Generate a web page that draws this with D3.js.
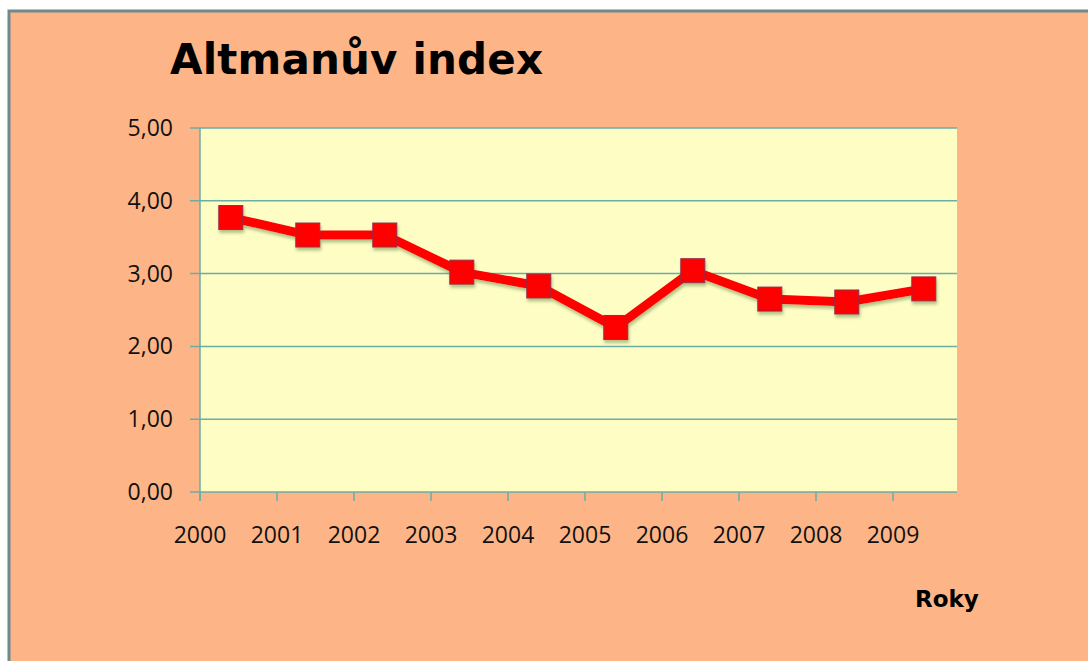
<!DOCTYPE html>
<html lang="cs">
<head>
  <meta charset="UTF-8">
  <title>Altmanův index</title>
  <style>
    html, body { margin: 0; padding: 0; background: #ffffff; }
    svg { display: block; }
  </style>
</head>
<body>
  <svg id="svg" width="1088" height="661"></svg>
  <script src="https://d3js.org/d3.v7.min.js"></script>
  <script>
    // data
    const years = ['2000', '2001', '2002', '2003', '2004', '2005', '2006', '2007', '2008', '2009']
    const values = [3.77, 3.53, 3.53, 3.02, 2.83, 2.26, 3.04, 2.65, 2.61, 2.79]
    const yTicks = [0, 1, 2, 3, 4, 5]

    const width = 1088
    const height = 661
    const plot = { left: 200, top: 128, right: 957, bottom: 492 }

    const svg = d3.select('#svg')

    // outer chart frame
    svg.append('rect')
      .attr('x', 9).attr('y', 11)
      .attr('width', width + 20).attr('height', height + 20)
      .attr('fill', '#fdb587')
      .attr('stroke', '#6f8a8c')
      .attr('stroke-width', 3)

    // x: category index -> pixel, step of ~77px, plot area ends before the 10th step
    const x = d3.scaleLinear().domain([0, 10]).range([200, 970])
    const y = d3.scaleLinear().domain([0, 5]).range([plot.bottom, plot.top])

    // plot area
    svg.append('rect')
      .attr('x', plot.left).attr('y', plot.top)
      .attr('width', plot.right - plot.left).attr('height', plot.bottom - plot.top)
      .attr('fill', '#fdfdc4')

    // horizontal grid + small ticks to the left
    svg.append('g')
      .selectAll('line')
      .data(yTicks)
      .enter()
      .append('line')
      .attr('x1', plot.left - 10)
      .attr('x2', plot.right)
      .attr('y1', d => y(d))
      .attr('y2', d => y(d))
      .attr('stroke', '#6aaea6')
      .attr('stroke-width', 1.5)

    // y axis line
    svg.append('line')
      .attr('x1', plot.left).attr('x2', plot.left)
      .attr('y1', plot.top).attr('y2', plot.bottom + 9)
      .attr('stroke', '#6aaea6')
      .attr('stroke-width', 1.5)

    // x ticks
    svg.append('g')
      .selectAll('line')
      .data(years)
      .enter()
      .append('line')
      .attr('x1', (d, i) => x(i))
      .attr('x2', (d, i) => x(i))
      .attr('y1', plot.bottom)
      .attr('y2', plot.bottom + 9)
      .attr('stroke', '#6aaea6')
      .attr('stroke-width', 1.5)

    // y labels
    svg.append('g')
      .selectAll('text')
      .data(yTicks)
      .enter()
      .append('text')
      .text(d => d3.format('.2f')(d).replace('.', ','))
      .attr('x', 173)
      .attr('y', d => y(d) + 8)
      .attr('text-anchor', 'end')
      .attr('font-family', 'Open Sans, sans-serif')
      .attr('font-size', 23)
      .attr('fill', '#111')

    // x labels
    svg.append('g')
      .selectAll('text')
      .data(years)
      .enter()
      .append('text')
      .text(d => d)
      .attr('x', (d, i) => x(i))
      .attr('y', 543)
      .attr('text-anchor', 'middle')
      .attr('font-family', 'Open Sans, sans-serif')
      .attr('font-size', 23)
      .attr('fill', '#111')

    // shadow for the series
    const defs = svg.append('defs')
    const f = defs.append('filter').attr('id', 'shadow')
      .attr('x', '-20%').attr('y', '-20%').attr('width', '140%').attr('height', '140%')
    f.append('feDropShadow')
      .attr('dx', 1).attr('dy', 3).attr('stdDeviation', 1.5)
      .attr('flood-color', '#5a7a40').attr('flood-opacity', 0.45)

    const px = (d, i) => x(i + 0.4)

    const series = svg.append('g').attr('filter', 'url(#shadow)')

    const lineGen = d3.line()
      .x((d, i) => px(d, i))
      .y(d => y(d))

    series.append('path')
      .datum(values)
      .attr('d', lineGen)
      .attr('fill', 'none')
      .attr('stroke', '#ff0000')
      .attr('stroke-width', 9)
      .attr('stroke-linejoin', 'round')

    const m = 24
    series.selectAll('rect')
      .data(values)
      .enter()
      .append('rect')
      .attr('x', (d, i) => px(d, i) - m / 2)
      .attr('y', d => y(d) - m / 2)
      .attr('width', m)
      .attr('height', m)
      .attr('fill', '#ff0000')
      .attr('stroke', '#9a2a4a')
      .attr('stroke-width', 1)

    // title
    svg.append('text')
      .text('Altmanův index')
      .attr('x', 170)
      .attr('y', 74)
      .attr('font-family', 'DejaVu Sans, Verdana, sans-serif')
      .attr('font-weight', 'bold')
      .attr('font-size', 42)
      .attr('textLength', 373)
      .attr('fill', '#000')

    // axis title
    svg.append('text')
      .text('Roky')
      .attr('x', 915)
      .attr('y', 607)
      .attr('font-family', 'DejaVu Sans, Verdana, sans-serif')
      .attr('font-weight', 'bold')
      .attr('font-size', 23)
      .attr('fill', '#000')
  </script>
</body>
</html>
